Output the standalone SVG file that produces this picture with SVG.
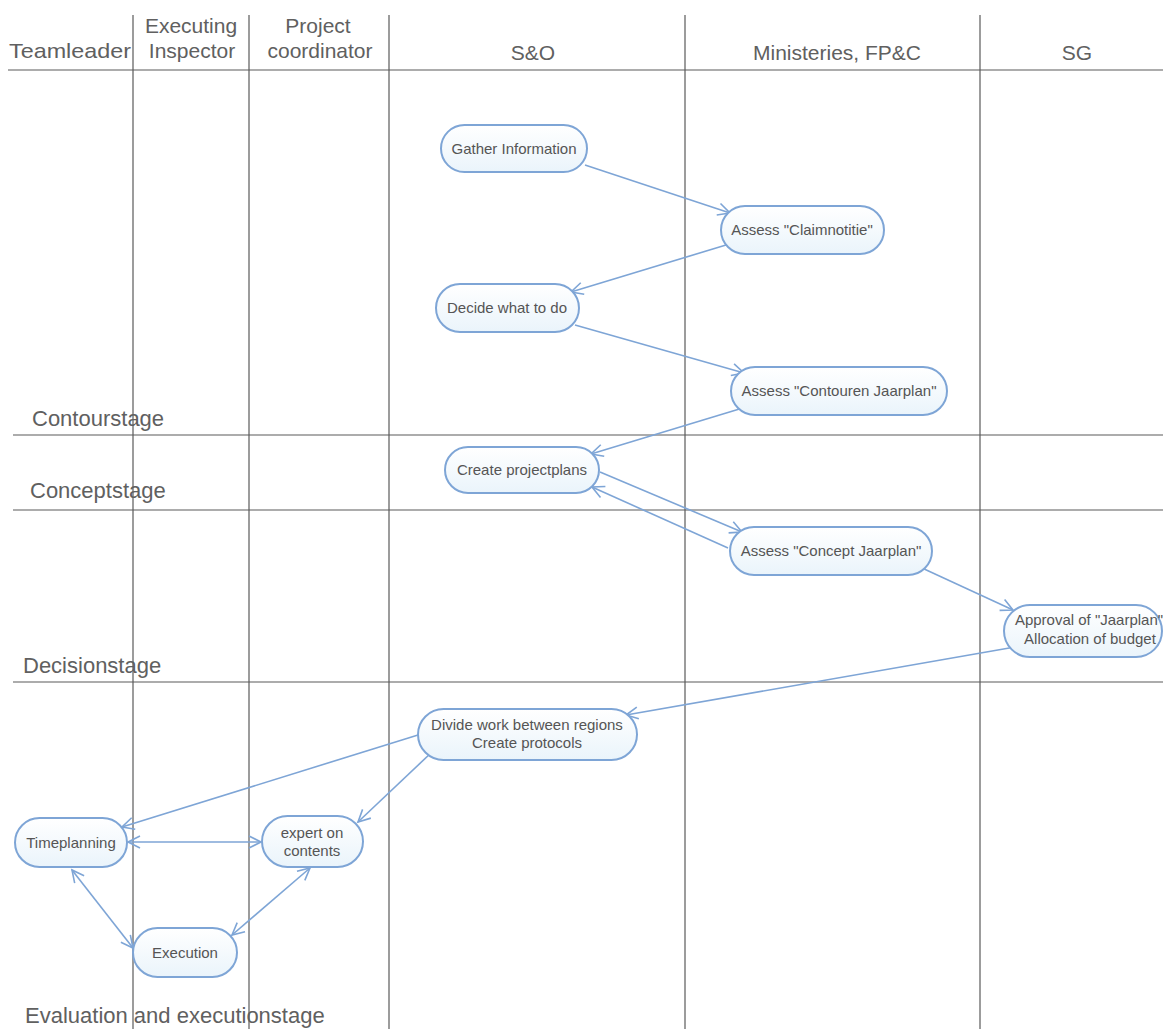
<svg xmlns="http://www.w3.org/2000/svg" width="1163" height="1029" viewBox="0 0 1163 1029">
<defs>
<style>
.bg{fill:#ffffff}
.grid{stroke:#5a5a5a;stroke-width:1.2;fill:none}
.hdr{font-family:"Liberation Sans",Arial,sans-serif;font-size:21px;fill:#606060}
.stage{font-family:"Liberation Sans",Arial,sans-serif;font-size:22px;fill:#606060}
.node rect{fill:url(#nodeFill);stroke:#7ea5d6;stroke-width:2}
.node text{font-family:"Liberation Sans",Arial,sans-serif;font-size:15px;fill:#555555;text-anchor:middle}
.conn{stroke:#7ea5d6;stroke-width:1.6;fill:none}
.one{marker-end:url(#arr)}
.two{marker-end:url(#arr);marker-start:url(#arr)}
</style>
<linearGradient id="nodeFill" x1="0" y1="0" x2="0" y2="1">
<stop offset="0" stop-color="#ffffff"/>
<stop offset="1" stop-color="#eaf4fb"/>
</linearGradient>
<marker id="arr" markerUnits="userSpaceOnUse" markerWidth="16" markerHeight="16" refX="13" refY="7" orient="auto-start-reverse">
<path d="M1,1 L13,7 L1,13" fill="none" stroke="#7ea5d6" stroke-width="1.6"/>
</marker>
</defs>
<rect class="bg" x="0" y="0" width="1163" height="1029"/>

<g id="lanes">
<line class="grid" x1="8" y1="70" x2="1163" y2="70"/>
<line class="grid" x1="13" y1="435" x2="1163" y2="435"/>
<line class="grid" x1="13" y1="510" x2="1163" y2="510"/>
<line class="grid" x1="13" y1="682" x2="1163" y2="682"/>
<line class="grid" x1="133" y1="15" x2="133" y2="1029"/>
<line class="grid" x1="249" y1="15" x2="249" y2="1029"/>
<line class="grid" x1="389" y1="15" x2="389" y2="1029"/>
<line class="grid" x1="685" y1="15" x2="685" y2="1029"/>
<line class="grid" x1="980" y1="15" x2="980" y2="1029"/>
</g>

<g id="headers">
<text class="hdr" x="9" y="58" textLength="122" lengthAdjust="spacingAndGlyphs">Teamleader</text>
<text class="hdr" x="191" y="33" text-anchor="middle">Executing</text>
<text class="hdr" x="192" y="58" text-anchor="middle">Inspector</text>
<text class="hdr" x="318" y="33" text-anchor="middle">Project</text>
<text class="hdr" x="320" y="58" text-anchor="middle">coordinator</text>
<text class="hdr" x="533" y="60" text-anchor="middle">S&amp;O</text>
<text class="hdr" x="837" y="60" text-anchor="middle">Ministeries, FP&amp;C</text>
<text class="hdr" x="1077" y="60" text-anchor="middle">SG</text>
</g>

<g id="stages">
<text class="stage" x="32" y="426">Contourstage</text>
<text class="stage" x="30" y="498">Conceptstage</text>
<text class="stage" x="23" y="673">Decisionstage</text>
<text class="stage" x="25" y="1023">Evaluation and executionstage</text>
</g>

<g id="connectors">
<line class="conn one" x1="585" y1="165" x2="730" y2="213"/>
<line class="conn one" x1="726" y1="245" x2="571" y2="292"/>
<line class="conn one" x1="575" y1="325" x2="744" y2="373"/>
<line class="conn one" x1="746" y1="407" x2="591" y2="454"/>
<line class="conn one" x1="600" y1="472" x2="742" y2="532"/>
<line class="conn one" x1="728" y1="548" x2="592" y2="487"/>
<line class="conn one" x1="922" y1="568" x2="1013" y2="610"/>
<line class="conn one" x1="1015" y1="647" x2="626" y2="715"/>
<line class="conn one" x1="418" y1="735" x2="122" y2="827"/>
<line class="conn one" x1="432" y1="752" x2="358" y2="822"/>
<line class="conn two" x1="128" y1="842" x2="261" y2="842"/>
<line class="conn two" x1="72" y1="870" x2="133" y2="948"/>
<line class="conn two" x1="310" y1="868" x2="232" y2="935"/>
</g>

<g id="n-gather" class="node">
<rect x="441" y="125" width="146" height="47" rx="23.5"/>
<text x="514" y="154">Gather Information</text>
</g>
<g id="n-claim" class="node">
<rect x="721" y="206" width="163" height="48" rx="24"/>
<text x="802" y="235">Assess "Claimnotitie"</text>
</g>
<g id="n-decide" class="node">
<rect x="436" y="284" width="143" height="48" rx="24"/>
<text x="507" y="313">Decide what to do</text>
</g>
<g id="n-contouren" class="node">
<rect x="731" y="367" width="216" height="48" rx="24"/>
<text x="839" y="396">Assess "Contouren Jaarplan"</text>
</g>
<g id="n-create" class="node">
<rect x="445" y="447" width="154" height="46" rx="23"/>
<text x="522" y="475">Create projectplans</text>
</g>
<g id="n-concept" class="node">
<rect x="730" y="527" width="202" height="48" rx="24"/>
<text x="831" y="556">Assess "Concept Jaarplan"</text>
</g>
<g id="n-approval" class="node">
<rect x="1004" y="605" width="158" height="52" rx="26"/>
<text x="1089" y="625">Approval of "Jaarplan"</text>
<text x="1090" y="644">Allocation of budget</text>
</g>
<g id="n-divide" class="node">
<rect x="418" y="709" width="219" height="51" rx="25.5"/>
<text x="527" y="730">Divide work between regions</text>
<text x="527" y="748">Create protocols</text>
</g>
<g id="n-time" class="node">
<rect x="15" y="818" width="112" height="49" rx="24.5"/>
<text x="71" y="848">Timeplanning</text>
</g>
<g id="n-expert" class="node">
<rect x="262" y="816" width="101" height="51" rx="25.5"/>
<text x="312" y="838">expert on</text>
<text x="312" y="856">contents</text>
</g>
<g id="n-exec" class="node">
<rect x="133" y="928" width="104" height="49" rx="24.5"/>
<text x="185" y="958">Execution</text>
</g>
</svg>
